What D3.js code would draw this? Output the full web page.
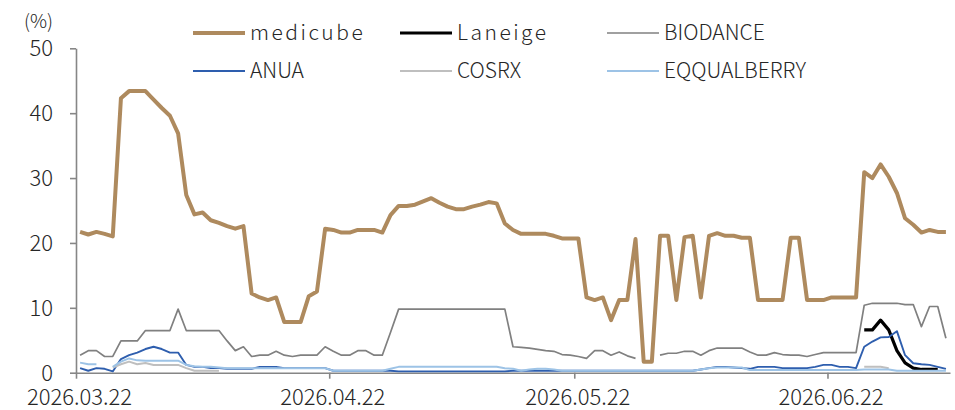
<!DOCTYPE html>
<html>
  <head>
    <script src="https://cdn.jsdelivr.net/npm/d3@7" charset="utf-8"></script>
    <style type="text/css">
    body { margin: 0; background: #fff; }
    svg text {
      font-family: "Noto Sans CJK KR", "Noto Sans", sans-serif;
      font-weight: 300;
      fill: #262626;
    }
    .axis path, .axis line { stroke: #868686; stroke-width: 1.6; }
    </style>
  </head>
  <body>
  <script type="text/javascript">
  // daily share (%), 2026.03.22 - 2026.07.06
  var startDate = new Date(2026, 2, 22);
  var endDate = new Date(2026, 6, 7);
  var dates = d3.timeDay.range(startDate, endDate);
  var tickDates = [new Date(2026, 2, 22), new Date(2026, 3, 22), new Date(2026, 4, 22), new Date(2026, 5, 22)];
  var yTicks = [0, 10, 20, 30, 40, 50];

  var medicube = [21.7, 21.3, 21.7, 21.4, 21.0, 42.3, 43.4, 43.4, 43.4, 42.1,
    40.8, 39.6, 36.9, 27.4, 24.4, 24.7, 23.5, 23.1, 22.6, 22.2,
    22.6, 12.2, 11.6, 11.2, 11.6, 7.8, 7.8, 7.8, 11.8, 12.5,
    22.2, 22.0, 21.6, 21.6, 22.0, 22.0, 22.0, 21.6, 24.3, 25.7,
    25.7, 25.9, 26.4, 26.9, 26.2, 25.6, 25.2, 25.2, 25.6, 25.9,
    26.3, 26.1, 23.0, 22.0, 21.4, 21.4, 21.4, 21.4, 21.1, 20.7,
    20.7, 20.7, 11.6, 11.2, 11.6, 8.1, 11.2, 11.2, 20.6, 1.7,
    1.7, 21.1, 21.1, 11.2, 20.9, 21.1, 11.6, 21.1, 21.5, 21.1,
    21.1, 20.8, 20.8, 11.2, 11.2, 11.2, 11.2, 20.8, 20.8, 11.2,
    11.2, 11.2, 11.6, 11.6, 11.6, 11.6, 30.9, 30.0, 32.1, 30.2,
    27.7, 23.8, 22.8, 21.6, 22.0, 21.7, 21.7];

  var laneige = [];
  for (var i = 0; i < 96; i++) laneige.push(null);
  laneige = laneige.concat([6.6, 6.6, 8.1, 6.6, 3.4, 1.5, 0.7, 0.5, 0.5, 0.5, null]);

  var biodance = [2.7, 3.4, 3.4, 2.5, 2.5, 4.9, 4.9, 4.9, 6.5, 6.5,
    6.5, 6.5, 9.8, 6.5, 6.5, 6.5, 6.5, 6.5, 4.9, 3.4,
    4.0, 2.5, 2.7, 2.7, 3.3, 2.7, 2.5, 2.7, 2.7, 2.7,
    4.0, 3.3, 2.7, 2.7, 3.4, 3.4, 2.7, 2.7, 6.2, 9.8,
    9.8, 9.8, 9.8, 9.8, 9.8, 9.8, 9.8, 9.8, 9.8, 9.8,
    9.8, 9.8, 9.8, 4.0, 3.9, 3.8, 3.6, 3.4, 3.3, 2.8,
    2.7, 2.5, 2.2, 3.4, 3.4, 2.7, 3.2, 2.6, 2.2, null,
    null, 2.7, 3.0, 3.0, 3.3, 3.3, 2.7, 3.4, 3.8, 3.8,
    3.8, 3.8, 3.2, 2.7, 2.7, 3.1, 2.8, 2.7, 2.7, 2.5,
    2.8, 3.1, 3.1, 3.1, 3.1, 3.1, 10.4, 10.7, 10.7, 10.7,
    10.7, 10.5, 10.5, 7.1, 10.2, 10.2, 5.3];

  var anua = [0.7, 0.3, 0.7, 0.6, 0.2, 2.1, 2.7, 3.1, 3.65, 4.0,
    3.65, 3.1, 3.1, 1.2, 0.9, 0.9, 0.7, 0.7, 0.6, 0.6,
    0.6, 0.6, 0.9, 0.9, 0.9, 0.7, 0.7, 0.7, 0.7, 0.7,
    0.7, 0.3, 0.3, 0.3, 0.3, 0.3, 0.3, 0.3, 0.3, 0.2,
    0.2, 0.2, 0.2, 0.2, 0.2, 0.2, 0.2, 0.2, 0.2, 0.2,
    0.2, 0.2, 0.2, 0.3, 0.3, 0.3, 0.3, 0.3, 0.3, 0.3,
    0.3, 0.3, 0.3, 0.3, 0.3, 0.3, 0.3, 0.3, 0.3, 0.3,
    0.3, 0.3, 0.3, 0.3, 0.3, 0.3, 0.5, 0.7, 0.9, 0.9,
    0.8, 0.7, 0.6, 0.9, 0.9, 0.9, 0.7, 0.7, 0.7, 0.7,
    0.9, 1.2, 1.2, 0.9, 0.9, 0.7, 4.0, 4.8, 5.45, 5.5,
    6.4, 2.7, 1.45, 1.3, 1.2, 0.9, 0.6];

  var cosrx = [null, null, null, null, 0.8, 1.3, 1.7, 1.3, 1.5, 1.2,
    1.2, 1.2, 1.2, 0.7, 0.3, 0.3, 0.3, 0.3];
  for (var i = 18; i < 96; i++) cosrx.push(null);
  cosrx = cosrx.concat([0.9, 0.9, 0.9, 0.7, null, null, null, null, null, null, null]);

  var eqqualberry = [1.55, 1.3, 1.3, null, 0.9, 1.7, 2.2, 1.9, 1.85, 1.85,
    1.85, 1.85, 1.85, 1.2, 1.0, 0.9, 0.9, 0.8, 0.7, 0.7,
    0.7, 0.7, 0.7, 0.7, 0.7, 0.7, 0.7, 0.7, 0.7, 0.7,
    0.7, 0.3, 0.3, 0.3, 0.3, 0.3, 0.3, 0.3, 0.6, 0.9,
    0.9, 0.9, 0.9, 0.9, 0.9, 0.9, 0.9, 0.9, 0.9, 0.9,
    0.9, 0.9, 0.7, 0.6, 0.3, 0.5, 0.6, 0.6, 0.5, 0.3,
    0.3, 0.3, 0.3, 0.3, 0.3, 0.3, 0.3, 0.3, 0.3, 0.3,
    0.3, 0.3, 0.3, 0.3, 0.3, 0.3, 0.5, 0.7, 0.8, 0.8,
    0.8, 0.8, 0.4, 0.4, 0.4, 0.4, 0.4, 0.4, 0.4, 0.4,
    0.4, 0.4, 0.4, 0.4, 0.4, 0.4, 0.5, 0.5, 0.5, 0.5,
    0.3, 0.3, 0.3, 0.3, 0.3, 0.3, 0.3];

  var series = [
    { name: "medicube", values: medicube, color: "#AE8A5E", width: 4 },
    { name: "Laneige", values: laneige, color: "#000000", width: 3.2 },
    { name: "BIODANCE", values: biodance, color: "#808080", width: 1.7 },
    { name: "ANUA", values: anua, color: "#2E5EAE", width: 1.9 },
    { name: "COSRX", values: cosrx, color: "#BFBFBF", width: 2 },
    { name: "EQQUALBERRY", values: eqqualberry, color: "#9DC3E6", width: 2 }
  ];

  var svg = d3.select("body").append("svg").attr("width", 955).attr("height", 410);

  var x = d3.scaleTime().domain([startDate, endDate]).range([76, 950]);
  var y = d3.scaleLinear().domain([0, 50]).range([372.7, 48.3]);

  // axes
  var yAxis = svg.append("g").attr("class", "axis")
    .attr("transform", "translate(76,0)")
    .call(d3.axisLeft(y).tickValues(yTicks).tickSize(6).tickSizeOuter(0).tickPadding(17));
  yAxis.selectAll("text").style("font-size", "22px").attr("dy", "0.34em");

  var xAxis = svg.append("g").attr("class", "axis")
    .attr("transform", "translate(0," + y(0) + ")")
    .call(d3.axisBottom(x).tickValues(tickDates).tickFormat(d3.timeFormat("%Y.%m.%d"))
      .tickSize(6).tickSizeOuter(0));
  xAxis.selectAll("text").style("font-size", "22px")
    .attr("y", 32).attr("dy", 0).attr("dx", 3);

  svg.append("text").attr("x", 53).attr("y", 28)
    .attr("text-anchor", "end").style("font-size", "19px").text("(%)");

  // lines
  var line = d3.line()
    .defined(function(d) { return d != null; })
    .x(function(d, i) { return x(d3.timeHour.offset(dates[i], 12)); })
    .y(function(d) { return y(d); });

  svg.selectAll("path.series")
    .data(series)
    .enter()
    .append("path")
    .attr("class", "series")
    .attr("fill", "none")
    .attr("stroke", function(d) { return d.color; })
    .attr("stroke-width", function(d) { return d.width; })
    .attr("stroke-linejoin", "round")
    .attr("d", function(d) { return line(d.values); });

  // legend, 3 columns x 2 rows
  var legend = svg.selectAll("g.legend")
    .data(series)
    .enter()
    .append("g")
    .attr("class", "legend")
    .attr("transform", function(d, i) {
      return "translate(" + (193 + (i % 3) * 207) + "," + (i < 3 ? 33 : 71) + ")";
    });

  legend.append("line")
    .attr("x1", 0).attr("x2", 52)
    .attr("stroke", function(d) { return d.color; })
    .attr("stroke-width", function(d) { return d.width; });

  // the original face has much wider lowercase letters
  legend.append("text")
    .attr("x", 57).attr("dy", "0.35em")
    .style("font-size", "21px")
    .style("letter-spacing", function(d) { return /[a-z]/.test(d.name) ? "2.5px" : "0px"; })
    .text(function(d) { return d.name; });
  </script>
  </body>
</html>
